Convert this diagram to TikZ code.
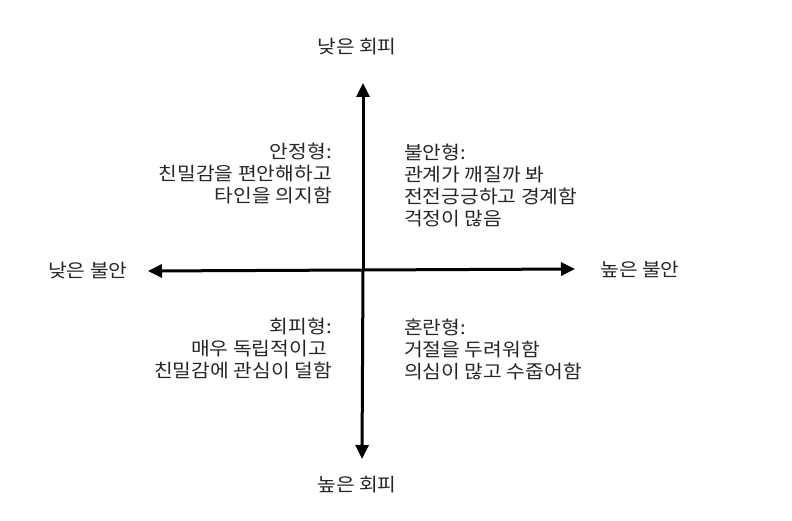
\documentclass[tikz,border=0pt]{standalone}
\usepackage{fontspec}
\newfontfamily\kofont[FakeStretch=1.1]{Noto Sans CJK KR}
\usetikzlibrary{arrows.meta}

\begin{document}
\begin{tikzpicture}[
  x=1pt, y=-1pt,
  font=\kofont\fontsize{18.5}{22}\selectfont,
  axis/.style={line width=3pt, -{Triangle[length=14pt,width=13pt]}},
  axislabel/.style={inner sep=0pt, text=black!85},
  quad/.style={inner sep=0pt, text=black!85}
]
\useasboundingbox (0,0) rectangle (792,521);

% axis ends
\coordinate (origin) at (363,270);
\coordinate (top) at (363,83);
\coordinate (bottom) at (362,459);
\coordinate (left) at (148,271);
\coordinate (right) at (575,269);

\draw[axis] (origin) -- (top);
\draw[axis] (origin) -- (bottom);
\draw[axis] (origin) -- (left);
\draw[axis] (origin) -- (right);

% axis labels
\node[axislabel] (lowavoid) at (357,47) {낮은 회피};
\node[axislabel] (highavoid) at (357,485) {높은 회피};
\node[axislabel] (lowanx) at (88,271) {낮은 불안};
\node[axislabel] (highanx) at (640,269) {높은 불안};

% quadrants
\node[quad, align=right, anchor=east] (secure) at (332,174)
  {안정형:\\친밀감을 편안해하고\\타인을 의지함};
\node[quad, align=left, anchor=west] (anxious) at (404,186)
  {불안형:\\관계가 깨질까 봐\\전전긍긍하고 경계함\\걱정이 많음};
\node[quad, align=right, anchor=east] (avoidant) at (332,349)
  {회피형:\\매우 독립적이고\rule{5pt}{0pt}\\친밀감에 관심이 덜함};
\node[quad, align=left, anchor=west] (fearful) at (404,349)
  {혼란형:\\거절을 두려워함\\의심이 많고 수줍어함};

\end{tikzpicture}
\end{document}
